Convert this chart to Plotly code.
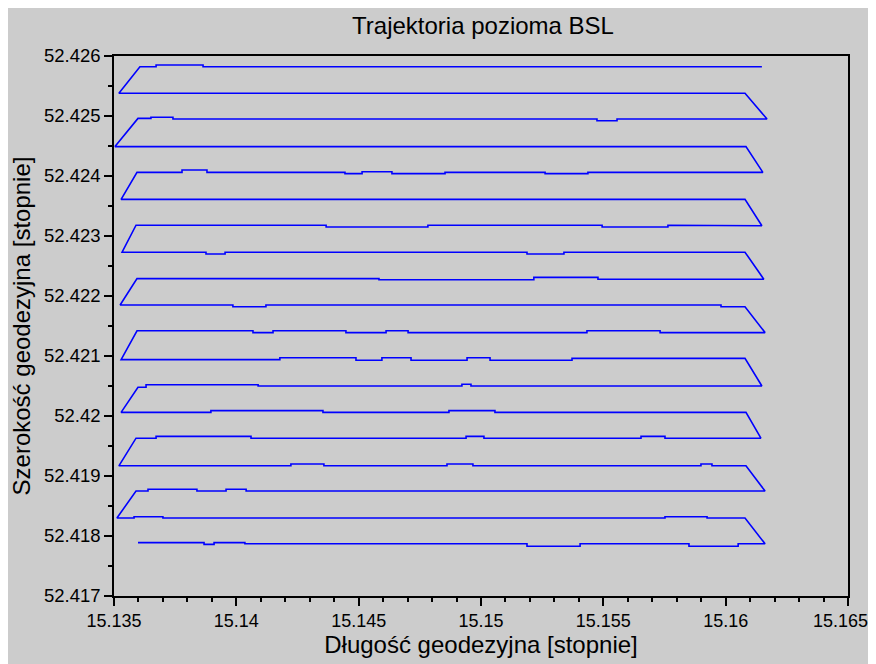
import plotly.graph_objects as go

# Each pass of the survey: longitude breakpoints (in flight order) and the latitude
# held on each piece between consecutive breakpoints.
pass_lon = [
    [15.13598, 15.13868, 15.13909, 15.14035, 15.15188, 15.15405, 15.15850, 15.16051, 15.16161],
    [15.16079, 15.15924, 15.15752, 15.13700, 15.13582, 15.13512],
    [15.13590, 15.13639, 15.13839, 15.13958, 15.14040, 15.16161],
    [15.16083, 15.15944, 15.15899, 15.14967, 15.14861, 15.14358, 15.14223, 15.13520],
    [15.13590, 15.13672, 15.14060, 15.14939, 15.15012, 15.15654, 15.15752, 15.16144],
    [15.16083, 15.15057, 15.14869, 15.14354, 15.13896, 15.13529],
    [15.13598, 15.13631, 15.14089, 15.14922, 15.14959, 15.16148],
    [15.16079, 15.15372, 15.15037, 15.14943, 15.14714, 15.14595, 15.14489, 15.14178, 15.13529],
    [15.13594, 15.14068, 15.14150, 15.14448, 15.14612, 15.14702, 15.15433, 15.15732, 15.16161],
    [15.16079, 15.15981, 15.14121, 15.13986, 15.13525],
    [15.13594, 15.14583, 15.15216, 15.15478, 15.16156],
    [15.16079, 15.15339, 15.15188, 15.13954, 15.13876, 15.13533],
    [15.13590, 15.14367, 15.14783, 15.15495, 15.15764, 15.16051, 15.16148],
    [15.16079, 15.13529],
    [15.13594, 15.13778, 15.13880, 15.14444, 15.14514, 15.14636, 15.14853, 15.15262, 15.15437, 15.16152],
    [15.16083, 15.13504],
    [15.13598, 15.13651, 15.13741, 15.15474, 15.15556, 15.16169],
    [15.16079, 15.13520],
    [15.13606, 15.13672, 15.13864, 15.16148],
]
pass_lat = [
    [52.41789, 52.41786, 52.41789, 52.41787, 52.41783, 52.41787, 52.41783, 52.41787],
    [52.41830, 52.41832, 52.41830, 52.41832, 52.41830],
    [52.41875, 52.41878, 52.41875, 52.41878, 52.41875],
    [52.41917, 52.41920, 52.41917, 52.41920, 52.41917, 52.41920, 52.41917],
    [52.41963, 52.41966, 52.41963, 52.41966, 52.41963, 52.41966, 52.41963],
    [52.42006, 52.42009, 52.42006, 52.42009, 52.42006],
    [52.42048, 52.42052, 52.42050, 52.42053, 52.42050],
    [52.42096, 52.42093, 52.42097, 52.42093, 52.42097, 52.42093, 52.42097, 52.42094],
    [52.42142, 52.42139, 52.42142, 52.42139, 52.42142, 52.42139, 52.42142, 52.42139],
    [52.42182, 52.42185, 52.42182, 52.42185],
    [52.42229, 52.42227, 52.42231, 52.42228],
    [52.42273, 52.42270, 52.42273, 52.42270, 52.42273],
    [52.42318, 52.42315, 52.42318, 52.42315, 52.42318, 52.42317],
    [52.42361],
    [52.42406, 52.42410, 52.42406, 52.42404, 52.42407, 52.42404, 52.42406, 52.42404, 52.42406],
    [52.42449],
    [52.42496, 52.42498, 52.42495, 52.42492, 52.42495],
    [52.42538],
    [52.42582, 52.42585, 52.42582],
]

x_ticks = [15.135, 15.14, 15.145, 15.15, 15.155, 15.16, 15.165]
x_tick_text = ["15.135", "15.14", "15.145", "15.15", "15.155", "15.16", "15.165\u00a0\u00a0\u00a0"]
y_ticks = [52.417, 52.418, 52.419, 52.42, 52.421, 52.422, 52.423, 52.424, 52.425, 52.426]
y_tick_text = ["52.417", "52.418", "52.419", "52.42", "52.421", "52.422", "52.423", "52.424", "52.425", "52.426"]

lon, lat = [], []
for br, lv in zip(pass_lon, pass_lat):
    for i, v in enumerate(lv):
        lon += [br[i], br[i + 1]]
        lat += [v, v]

GREY = "#cccccc"
FONT = "Liberation Sans, Arial, sans-serif"

fig = go.Figure()
fig.add_trace(go.Scatter(x=lon, y=lat, mode="lines",
                         line=dict(color="#0000ff", width=1.6), hoverinfo="skip"))

# page body has an 8px margin; the figure is sized to fill the rest of the window
W, H = 868, 656
L, R, T, B = 106, 28, 48, 68

fig.update_layout(
    width=W, height=H,
    margin=dict(l=L, r=R, t=T, b=B, autoexpand=False),
    paper_bgcolor=GREY, plot_bgcolor=GREY,
    showlegend=False,
    font=dict(family=FONT, color="#000000"),
    title=dict(text="Trajektoria pozioma BSL", x=475 / W, xanchor="center",
               y=1 - 18 / H, yanchor="middle", yref="container",
               font=dict(size=24, family=FONT)),
)
fig.update_xaxes(range=[15.135, 15.165], tickvals=x_ticks, ticktext=x_tick_text,
                 automargin=False, ticklabeloverflow="allow",
                 ticks="outside", ticklen=8, tickwidth=1.5, tickcolor="black",
                 minor=dict(dtick=0.001, tick0=15.135, ticks="outside", ticklen=4,
                            tickwidth=1.5, tickcolor="black", showgrid=False),
                 showline=True, linecolor="black", linewidth=1.5, mirror=True,
                 showgrid=False, zeroline=False,
                 tickfont=dict(size=18, family=FONT),
                 title=dict(text="Długość geodezyjna [stopnie]", font=dict(size=24, family=FONT),
                            standoff=6))
fig.update_yaxes(range=[52.417, 52.426], tickvals=y_ticks, ticktext=y_tick_text,
                 automargin=False, ticklabeloverflow="allow",
                 ticks="outside", ticklen=8, tickwidth=1.5, tickcolor="black",
                 minor=dict(dtick=0.0005, tick0=52.417, ticks="outside", ticklen=4,
                            tickwidth=1.5, tickcolor="black", showgrid=False),
                 showline=True, linecolor="black", linewidth=1.5, mirror=True,
                 showgrid=False, zeroline=False,
                 tickfont=dict(size=18.5, family=FONT),
                 title=dict(text="Szerokość geodezyjna [stopnie]", font=dict(size=24, family=FONT),
                            standoff=10))

fig.write_html("out.html")
